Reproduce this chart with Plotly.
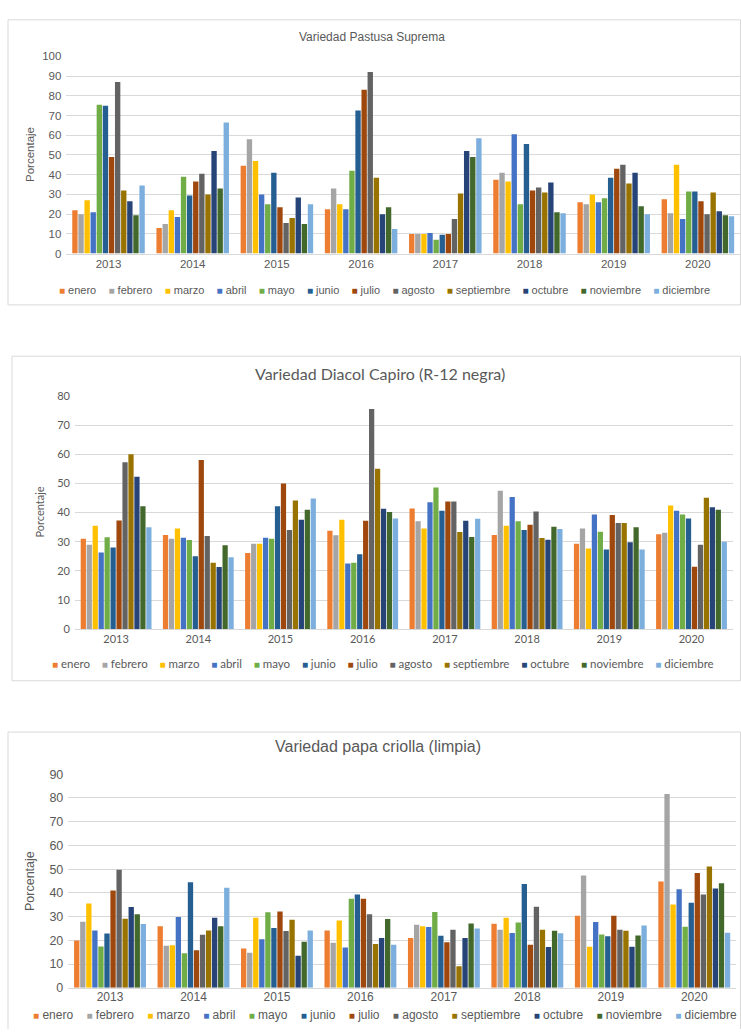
import plotly.graph_objects as go

years = ["2013", "2014", "2015", "2016", "2017", "2018", "2019", "2020"]
months = ["enero", "febrero", "marzo", "abril", "mayo", "junio", "julio",
          "agosto", "septiembre", "octubre", "noviembre", "diciembre"]
colors = ["#ED7D31", "#A5A5A5", "#FFC000", "#4472C4", "#70AD47", "#255E91",
          "#9E480E", "#636363", "#997300", "#264478", "#43682B", "#7CAFDD"]

# Variedad Pastusa Suprema: rows = years, columns = months
pastusa_2013 = [22, 20, 27, 21, 75.5, 75, 49, 87, 32, 26.5, 19.5, 34.5]
pastusa_2014 = [13, 15, 22, 18.5, 39, 29.5, 36.5, 40.5, 30, 52, 33, 66.5]
pastusa_2015 = [44.5, 58, 47, 30, 25, 41, 23.5, 15.5, 18, 28.5, 15, 25]
pastusa_2016 = [22.5, 33, 25, 22.5, 42, 72.5, 83, 92, 38.5, 20, 23.5, 12.5]
pastusa_2017 = [10, 10, 10, 10.5, 7, 9.5, 10, 17.5, 30.5, 52, 49, 58.5]
pastusa_2018 = [37.5, 41, 36.5, 60.5, 25, 55.5, 32, 33.5, 31, 36, 21, 20.5]
pastusa_2019 = [26, 25, 30, 26, 28, 38.5, 43, 45, 35.5, 41, 24, 20]
pastusa_2020 = [27.5, 20.5, 45, 17.5, 31.5, 31.5, 26.5, 20, 31, 21.5, 19.5, 19]

# Variedad Diacol Capiro (R-12 negra)
capiro_2013 = [31, 29, 35.5, 26.3, 31.5, 28, 37.3, 57.3, 60, 52.3, 42.2, 35]
capiro_2014 = [32.3, 31, 34.5, 31.4, 30.6, 25, 58, 32, 22.8, 21.3, 28.8, 24.7]
capiro_2015 = [26.1, 29.3, 29.3, 31.4, 31, 42.2, 50, 34, 44.1, 37.5, 41, 44.8]
capiro_2016 = [33.8, 32.2, 37.5, 22.5, 22.8, 25.7, 37.2, 75.5, 55, 41.3, 40.2, 38]
capiro_2017 = [41.4, 37, 34.5, 43.5, 48.6, 40.6, 43.8, 43.8, 33.3, 37.2, 31.6, 37.9]
capiro_2018 = [32.3, 47.5, 35.5, 45.3, 37, 34, 35.8, 40.4, 31.3, 30.7, 35.1, 34.4]
capiro_2019 = [29.3, 34.5, 27.7, 39.3, 33.4, 27.3, 39.2, 36.4, 36.4, 29.8, 35, 27.3]
capiro_2020 = [32.6, 33.1, 42.4, 40.6, 39.3, 38, 21.4, 29, 45.1, 41.8, 41, 30]

# Variedad papa criolla (limpia)
criolla_2013 = [20, 27.8, 35.5, 24.2, 17.4, 22.9, 41, 49.7, 29.1, 34.1, 31, 26.9]
criolla_2014 = [26, 17.7, 18, 29.8, 14.6, 44.5, 15.8, 22.4, 24.2, 29.5, 26, 42.2]
criolla_2015 = [16.6, 14.8, 29.5, 20.5, 31.8, 25.2, 32.2, 24, 28.7, 13.5, 19.4, 24.2]
criolla_2016 = [24.2, 19, 28.4, 17, 37.5, 39.3, 37.5, 31, 18.5, 21, 29, 18.2]
criolla_2017 = [21, 26.6, 25.9, 25.6, 32, 22, 19.2, 24.5, 9.1, 21, 27.1, 25]
criolla_2018 = [27, 24.5, 29.5, 23.1, 27.5, 43.8, 18.2, 34.2, 24.5, 17.2, 24.1, 23]
criolla_2019 = [30.4, 47.3, 17.3, 27.7, 22.5, 21.7, 30.4, 24.5, 24.1, 17.3, 22.1, 26.3]
criolla_2020 = [44.8, 81.7, 35.1, 41.5, 25.7, 35.8, 48.4, 39.3, 51.1, 41.8, 44.1, 23.2]

titles = ["Variedad Pastusa Suprema", "Variedad Diacol Capiro (R-12 negra)",
          "Variedad papa criolla (limpia)"]
y_title = "Porcentaje"

datasets = [
    [pastusa_2013, pastusa_2014, pastusa_2015, pastusa_2016,
     pastusa_2017, pastusa_2018, pastusa_2019, pastusa_2020],
    [capiro_2013, capiro_2014, capiro_2015, capiro_2016,
     capiro_2017, capiro_2018, capiro_2019, capiro_2020],
    [criolla_2013, criolla_2014, criolla_2015, criolla_2016,
     criolla_2017, criolla_2018, criolla_2019, criolla_2020],
]

W, H = 741, 1036

def py(px):
    return 1 - px / H

def pxx(px):
    return px / W

fig = go.Figure()

for k, data in enumerate(datasets):
    ax = "" if k == 0 else str(k + 1)
    for m, (name, col) in enumerate(zip(months, colors)):
        fig.add_trace(go.Bar(
            x=years, y=[row[m] for row in data], name=name,
            marker=dict(color=col, line=dict(width=0)),
            xaxis="x" + ax, yaxis="y" + ax, showlegend=False,
        ))

# panel geometry (pixels); closed=False -> bottom edge runs off the page
panels = [
    dict(box=(8, 13, 740.5, 302), closed=True, xdom=(66.4, 740), ydom=(50, 250), rng=100,
         font="Liberation Sans", tfs=11.5, xfs=11.5, xstand=0, title_y=30, title_fs=12,
         title_x=372, ytitle_x=30, leg_y=287, leg_fs=11, leg_sq=10, leg_gap=4, leg_x=384),
    dict(box=(12, 354, 740.5, 683), closed=True, xdom=(75, 732.6), ydom=(394.3, 630.7), rng=80,
         font="Lato", tfs=11, xfs=11, xstand=0, title_y=372, title_fs=16,
         title_x=380, ytitle_x=40, leg_y=665, leg_fs=11.5, leg_sq=10, leg_gap=4, leg_x=383),
    dict(box=(8, 735, 740.5, 1036), closed=False, xdom=(68.3, 736), ydom=(777.7, 994.3), rng=90,
         font="Liberation Sans", tfs=12.5, xfs=12, xstand=-2, title_y=750, title_fs=16,
         title_x=378, ytitle_x=30, leg_y=1022, leg_fs=12, leg_sq=10, leg_gap=4, leg_x=385),
]

shapes = []
annotations = []
layout_axes = {}
for k, p in enumerate(panels):
    ax = "" if k == 0 else str(k + 1)
    x0, y0, x1, y1 = p["box"]
    X0, X1, Y0, Y1 = pxx(x0), pxx(x1), py(y1), py(y0)
    path = f"M{X0},{Y0} L{X0},{Y1} L{X1},{Y1} L{X1},{Y0}" + (" Z" if p["closed"] else "")
    shapes.append(dict(type="path", xref="paper", yref="paper", path=path,
                       line=dict(color="#D9D9D9", width=1), layer="below"))
    layout_axes["xaxis" + ax] = dict(
        domain=[pxx(p["xdom"][0]), pxx(p["xdom"][1])],
        anchor="y" + ax, type="category", showgrid=False, showline=True,
        linecolor="#D9D9D9", linewidth=1, ticks="", zeroline=False,
        ticklabelstandoff=p["xstand"],
        tickfont=dict(family=p["font"], size=p["xfs"], color="#595959"),
    )
    layout_axes["yaxis" + ax] = dict(
        domain=[py(p["ydom"][1]), py(p["ydom"][0])],
        anchor="x" + ax, range=[0, p["rng"]], dtick=10, showgrid=True,
        gridcolor="#D9D9D9", gridwidth=1, zeroline=False, showline=False,
        ticks="", ticklabelstandoff=4,
        tickfont=dict(family=p["font"], size=p["tfs"], color="#595959"),
    )
    annotations.append(dict(
        text=titles[k], xref="paper", yref="paper", x=pxx(p["title_x"]),
        y=py(p["title_y"]), showarrow=False, xanchor="center", yanchor="middle",
        font=dict(family=p["font"], size=p["title_fs"], color="#595959")))
    annotations.append(dict(
        text=y_title, xref="paper", yref="paper", x=pxx(p["ytitle_x"]),
        y=py((p["ydom"][0] + p["ydom"][1]) / 2), textangle=-90, showarrow=False,
        xanchor="center", yanchor="middle",
        font=dict(family=p["font"], size=p["tfs"], color="#595959")))
    sep = "\u00a0" * p["leg_gap"]
    parts = [f"<span style='color:{c};font-size:{p['leg_sq']}px'>\u25a0</span>\u00a0{n}"
             for n, c in zip(months, colors)]
    annotations.append(dict(
        text=sep.join(parts), xref="paper", yref="paper", x=pxx(p["leg_x"]),
        y=py(p["leg_y"]), showarrow=False, xanchor="center", yanchor="middle",
        font=dict(family=p["font"], size=p["leg_fs"], color="#595959")))

fig.update_layout(
    width=W, height=H, margin=dict(l=0, r=0, t=0, b=0),
    paper_bgcolor="white", plot_bgcolor="white",
    barmode="group", bargap=0.13, bargroupgap=0.12,
    shapes=shapes, annotations=annotations, **layout_axes,
)

fig.write_html(
    "out.html",
    config={"displayModeBar": False},
    post_script=(
        "document.documentElement.style.margin='0';"
        "document.documentElement.style.overflow='hidden';"
        "document.body.style.margin='0';document.body.style.overflow='hidden';"
        "var d=document.querySelector('.plotly-graph-div');"
        "d.style.position='absolute';d.style.top='0px';d.style.left='0px';"
    ),
)
